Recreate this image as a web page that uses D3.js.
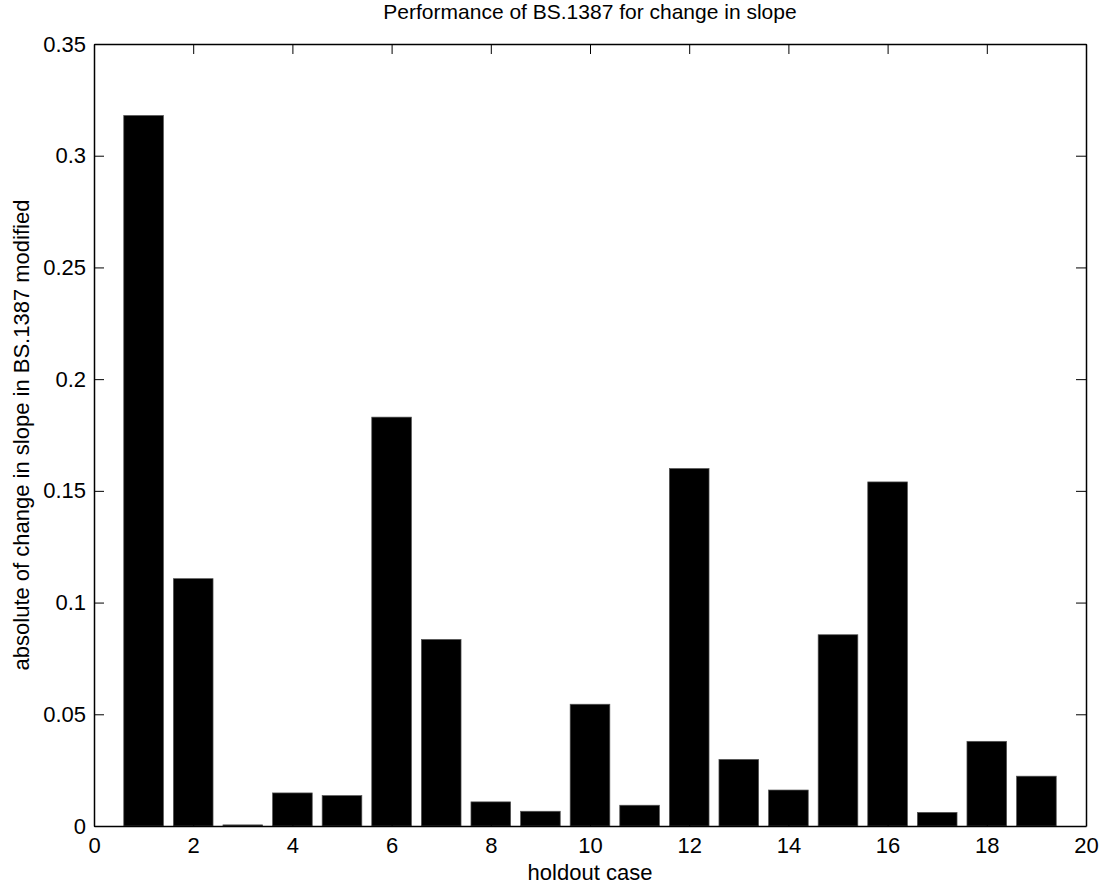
<!DOCTYPE html>
<html>
<head>
<meta charset="utf-8">
<script src="https://cdn.jsdelivr.net/npm/d3@7"></script>
<style>
body{margin:0;background:#fff}
text{font-family:"Liberation Sans",Arial,Helvetica,sans-serif;fill:#000}
</style>
</head>
<body>
<div id="chart"></div>
<script>
var cases = d3.range(1, 20);
var slopeChange = [0.318, 0.1107, 0.0005, 0.0148, 0.0136, 0.183, 0.0835, 0.0108, 0.0066, 0.0545,
                   0.0093, 0.160, 0.0298, 0.0161, 0.0856, 0.154, 0.0061, 0.0379, 0.0223];
var xTicks = d3.range(0, 21, 2);
var yTicks = [0, 0.05, 0.1, 0.15, 0.2, 0.25, 0.3, 0.35];

var W = 1107, H = 888;
var margin = {top: 44, right: 21, bottom: 62, left: 94};
var w = W - margin.left - margin.right;
var h = H - margin.top - margin.bottom;

var svg = d3.select("#chart").append("svg")
	.attr("width", W)
	.attr("height", H);

var g = svg.append("g")
	.attr("transform", "translate(" + margin.left + "," + margin.top + ")");

var x = d3.scaleLinear().domain([0, 20]).range([0, w]);
var y = d3.scaleLinear().domain([0, 0.35]).range([h, 0]);
var barW = 0.8;

// bars
g.selectAll("rect.bar")
	.data(slopeChange)
	.enter()
	.append("rect")
	.attr("class", "bar")
	.attr("x", function(d, i){return x(cases[i] - barW / 2)})
	.attr("width", function(){return x(barW) - x(0)})
	.attr("y", function(d){return y(d)})
	.attr("height", function(d){return h - y(d)})
	.attr("fill", "#000")
	.attr("stroke", "#555")
	.attr("stroke-width", 0.7);

// axes, ticks pointing inward like matlab
var tl = 10;
var fs = "22px";
var xb = g.append("g").attr("transform", "translate(0," + h + ")")
	.call(d3.axisBottom(x).tickValues(xTicks).tickSizeInner(-tl).tickSizeOuter(0).tickPadding(11).tickFormat(d3.format("d")));
var xt = g.append("g")
	.call(d3.axisTop(x).tickValues(xTicks).tickSizeInner(-tl).tickSizeOuter(0).tickFormat(""));
var yl = g.append("g")
	.call(d3.axisLeft(y).tickValues(yTicks).tickSizeInner(-tl).tickSizeOuter(0).tickPadding(8).tickFormat(function(d){return d === 0 ? "0" : String(+d.toFixed(2))}));
var yr = g.append("g").attr("transform", "translate(" + w + ",0)")
	.call(d3.axisRight(y).tickValues(yTicks).tickSizeInner(-tl).tickSizeOuter(0).tickFormat(""));

[xb, xt, yl, yr].forEach(function(a){
	a.select(".domain").attr("stroke", "#000").attr("stroke-width", 1.5);
	a.selectAll(".tick line").attr("stroke", "#000").attr("stroke-width", 1);
	a.selectAll(".tick text").style("font-size", fs).style("font-family", "Liberation Sans, Arial, sans-serif").attr("fill", "#000");
});

// labels
svg.append("text")
	.attr("x", margin.left + w / 2)
	.attr("y", 19)
	.style("text-anchor", "middle")
	.style("font-size", "21px")
	.text("Performance of BS.1387 for change in slope");

svg.append("text")
	.attr("x", margin.left + w / 2)
	.attr("y", 880)
	.style("text-anchor", "middle")
	.style("font-size", fs)
	.text("holdout case");

svg.append("text")
	.attr("transform", "rotate(-90)")
	.attr("x", -(margin.top + h / 2))
	.attr("y", 29)
	.style("text-anchor", "middle")
	.style("font-size", fs)
	.text("absolute of change in slope in BS.1387 modified");
</script>
</body>
</html>
